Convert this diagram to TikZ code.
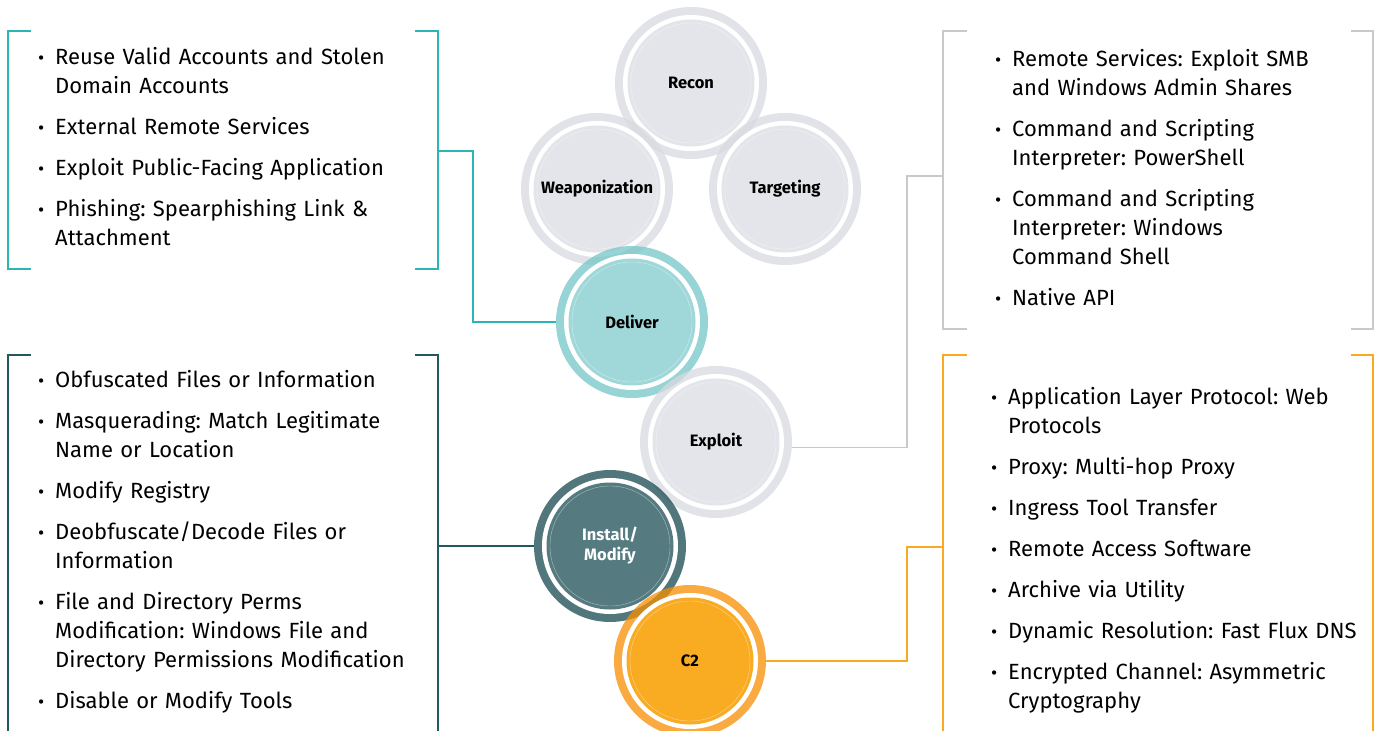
\documentclass[tikz,border=0pt]{standalone}
\usepackage{fontspec}
\setmainfont{Fira Sans}
\usepackage{enumitem}
\frenchspacing
\definecolor{grayin}{HTML}{E4E5EA}
\definecolor{grayring}{HTML}{D8DAE0}
\definecolor{tealin}{HTML}{A0D8DA}
\definecolor{tealring}{HTML}{73C6C8}
\definecolor{slatein}{HTML}{557A80}
\definecolor{slatering}{HTML}{174A52}
\definecolor{orangein}{HTML}{F9AB22}
\definecolor{orangering}{HTML}{F78E00}
\definecolor{tealline}{HTML}{2DB4B6}
\definecolor{slateline}{HTML}{1E5A60}
\definecolor{grayline}{HTML}{C9C9C9}
\definecolor{orangeline}{HTML}{F9AA22}
\newlist{ttp}{itemize}{1}
\setlist[ttp]{label={\fontsize{19}{19}\selectfont\textbullet},leftmargin=23pt,labelsep=11pt,itemsep=12pt,parsep=0pt,topsep=0pt,partopsep=0pt}
\tikzset{
  stage/.style 2 args={circle,minimum size=152pt,inner sep=0pt,fill=#1,fill opacity=.75,text opacity=1,
    font=\fontsize{16.5}{20}\selectfont\bfseries,align=center,
    path picture={
      \fill[white,fill opacity=1](path picture bounding box.center)circle[radius=68pt];
      \fill[#2,fill opacity=1](path picture bounding box.center)circle[radius=63.5pt];
      \draw[white,draw opacity=.5,line width=.4pt](path picture bounding box.center)circle[radius=60pt];}},
  tlist/.style={anchor=north west,inner sep=0pt,text width=420pt,align=left,font=\fontsize{22}{29}\selectfont},
  bracket/.style={line width=1.1pt}
}
\begin{document}
\begin{tikzpicture}[x=1pt,y=-1pt]
\useasboundingbox(0,0)rectangle(1374,731);
\draw[bracket,tealline](31,31)-|(8,269)--(31,269);
\draw[bracket,tealline](415,31)-|(438,269)--(415,269);
\draw[bracket,slateline](31,355)-|(8,731);
\draw[bracket,slateline](415,355)-|(438,731);
\draw[bracket,grayline](967,31)-|(943,329)--(967,329);
\draw[bracket,grayline](1351,31)-|(1373,329)--(1351,329);
\draw[bracket,orangeline](967,355)-|(943,731);
\draw[bracket,orangeline](1351,355)-|(1373,731);
\node[stage={grayring}{grayin}](recon)at(691,83){Recon};
\node[stage={grayring}{grayin}](weapon)at(597,189){Weaponization};
\node[stage={grayring}{grayin}](target)at(785,189){Targeting};
\node[stage={tealring}{tealin}](deliver)at(632,322){Deliver};
\node[stage={grayring}{grayin}](exploit)at(716,442){Exploit};
\node[stage={slatering}{slatein},text=white](install)at(610,546){Install/\\Modify};
\node[stage={orangering}{orangein}](c2)at(690,661){C2};
\coordinate(dlvbr)at(438,151);
\coordinate(insbr)at(438,546);
\coordinate(expbr)at(943,176);
\coordinate(ctwobr)at(943,547);
\draw[bracket,tealline](dlvbr)--++(35,0)|-(deliver.west);
\draw[bracket,slateline](insbr)--(install.west);
\draw[bracket,grayline](expbr)--++(-36,0)|-(exploit.-4);
\draw[bracket,orangeline](ctwobr)--++(-36,0)|-(c2.east);
\node[tlist](dlvlist)at(32,35){\begin{ttp}
  \item Reuse Valid Accounts and Stolen\newline Domain Accounts
  \item External Remote Services
  \item Exploit Public-Facing Application
  \item Phishing: Spearphishing Link \&\newline Attachment
\end{ttp}};
\node[tlist](inslist)at(32,358){\begin{ttp}
  \item Obfuscated Files or Information
  \item Masquerading: Match Legitimate\newline Name or Location
  \item Modify Registry
  \item Deobfuscate/Decode Files or\newline Information
  \item File and Directory Perms\newline Modification: Windows File and\newline Directory Permissions Modification
  \item Disable or Modify Tools
\end{ttp}};
\node[tlist](explist)at(989,37){\begin{ttp}
  \item Remote Services: Exploit SMB\newline and Windows Admin Shares
  \item Command and Scripting\newline Interpreter: PowerShell
  \item Command and Scripting\newline Interpreter: Windows\newline Command Shell
  \item Native API
\end{ttp}};
\node[tlist](ctwolist)at(985,375){\begin{ttp}
  \item Application Layer Protocol: Web\newline Protocols
  \item Proxy: Multi-hop Proxy
  \item Ingress Tool Transfer
  \item Remote Access Software
  \item Archive via Utility
  \item Dynamic Resolution: Fast Flux DNS
  \item Encrypted Channel: Asymmetric\newline Cryptography
\end{ttp}};
\end{tikzpicture}
\end{document}
